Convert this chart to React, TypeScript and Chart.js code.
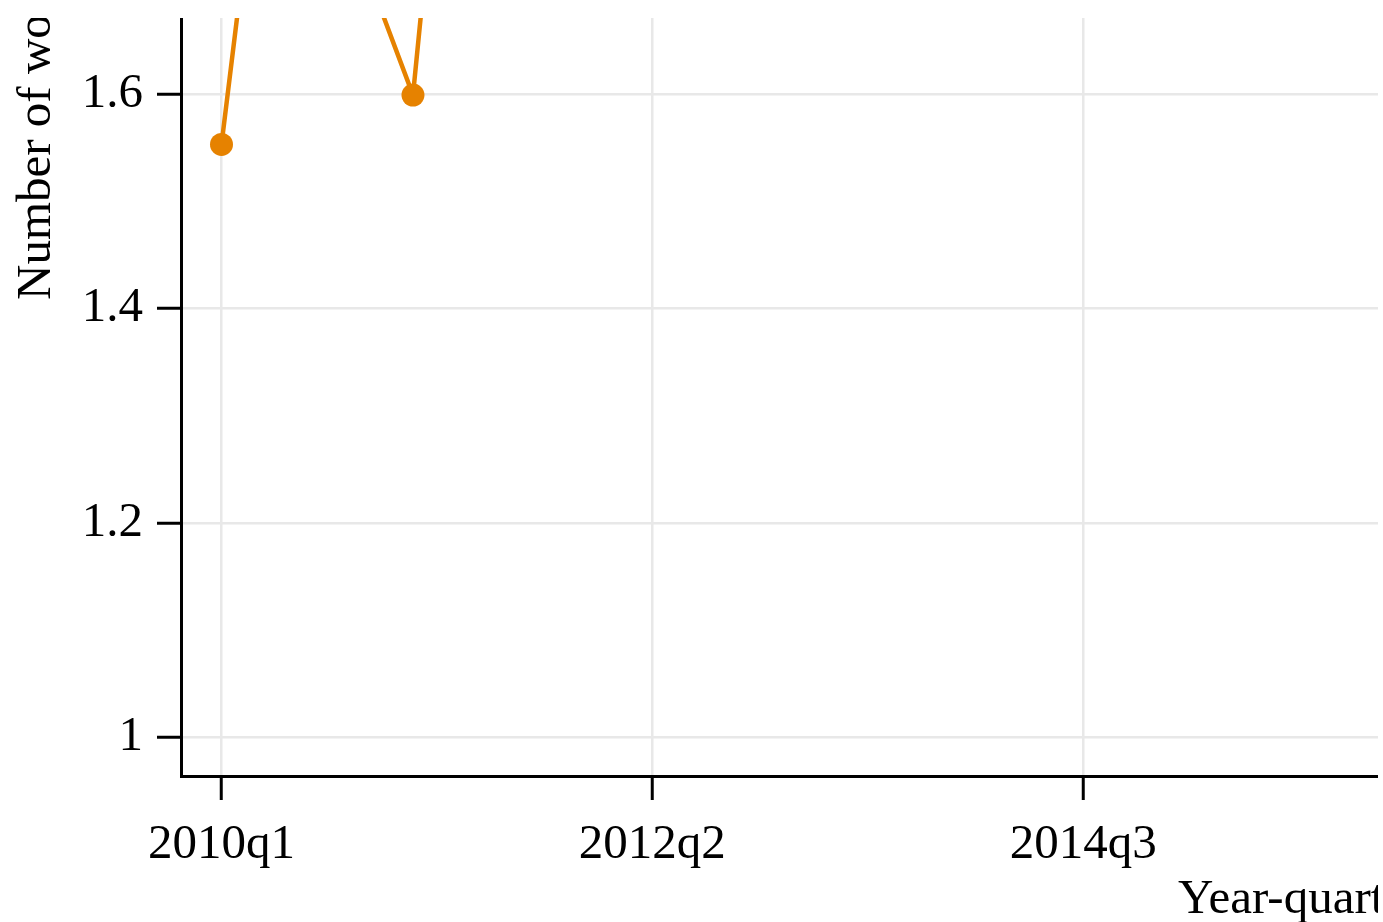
import React, { useEffect, useRef } from "react";
import { Chart, registerables } from "chart.js";

Chart.register(...registerables);

// Data read from the (cropped) reference picture
const categories = ["2010q1", "2010q2", "2010q3", "2010q4", "2011q1", "2011q2"];
const seriesValues = [1.553, 1.917, 1.86, 1.718, 1.599, 2.05];
const xTickLabels = ["2010q1", "2012q2", "2014q3"];
const yTickValues = [1, 1.2, 1.4, 1.6];
const yTitle = "Number of workers";
const xTitle = "Year-quarter";

const quarterIndex = (label: string) => {
  const [y, q] = label.split("q");
  return (parseInt(y, 10) - 2010) * 4 + (parseInt(q, 10) - 1);
};

const ORANGE = "#E68200";
const FONT_FAMILY = '"Liberation Serif", "Times New Roman", serif';

export default function App() {
  const canvasRef = useRef<HTMLCanvasElement | null>(null);

  useEffect(() => {
    if (!canvasRef.current) return;

    const titlePlugin = {
      id: "customTitles",
      afterDraw(chart: any) {
        const ctx = chart.ctx as CanvasRenderingContext2D;
        ctx.save();
        ctx.fillStyle = "#000";
        ctx.font = `49px ${FONT_FAMILY}`;
        ctx.textBaseline = "alphabetic";
        ctx.textAlign = "left";
        // y-axis title (rotated)
        ctx.save();
        ctx.translate(50, 300);
        ctx.rotate(-Math.PI / 2);
        ctx.fillText(yTitle, 0, 0);
        ctx.restore();
        // x-axis title
        ctx.fillText(xTitle, 1178, 913);
        ctx.restore();
      },
    };

    const chart = new Chart(canvasRef.current, {
      type: "line",
      data: {
        datasets: [
          {
            data: categories.map((c, i) => ({ x: quarterIndex(c), y: seriesValues[i] })),
            borderColor: ORANGE,
            backgroundColor: ORANGE,
            borderWidth: 4.5,
            pointRadius: 11.5,
            pointBorderWidth: 0,
            pointBackgroundColor: ORANGE,
            tension: 0,
            fill: false,
            clip: 0,
          } as any,
        ],
      },
      options: {
        animation: false,
        responsive: false,
        devicePixelRatio: 1,
        layout: { autoPadding: false, padding: { left: 0, right: 20, top: 0, bottom: 0 } },
        plugins: {
          legend: { display: false },
          tooltip: { enabled: false },
          title: { display: false },
        },
        scales: {
          x: {
            type: "linear",
            min: -0.846,
            max: 26.29,
            afterFit(axis: any) {
              axis.height = 146;
              axis.paddingLeft = 0;
              axis.paddingRight = 0;
            },
            afterBuildTicks(axis: any) {
              axis.ticks = xTickLabels.map((l) => ({ value: quarterIndex(l) }));
            },
            ticks: {
              autoSkip: false,
              maxRotation: 0,
              minRotation: 0,
              padding: 16,
              color: "#000",
              font: { family: FONT_FAMILY, size: 49 },
              callback: (v: any) => {
                const found = xTickLabels.find((l) => quarterIndex(l) === Number(v));
                return found ?? "";
              },
            },
            grid: {
              color: "#e8e8e8",
              lineWidth: 2.5,
              tickColor: "#000",
              tickLength: 24,
              tickWidth: 3,
            } as any,
            border: { color: "#000", width: 3 },
          },
          y: {
            type: "linear",
            min: 0.9639,
            max: 1.6877,
            afterFit(axis: any) {
              axis.width = 181;
              axis.paddingTop = 0;
              axis.paddingBottom = 0;
            },
            afterBuildTicks(axis: any) {
              axis.ticks = yTickValues.map((v) => ({ value: v }));
            },
            ticks: {
              autoSkip: false,
              padding: 14,
              color: "#000",
              font: { family: FONT_FAMILY, size: 49 },
              callback: (v: any) => String(Number(v)),
            },
            grid: {
              color: "#e8e8e8",
              lineWidth: 2.5,
              tickColor: "#000",
              tickLength: 24,
              tickWidth: 3,
            } as any,
            border: { color: "#000", width: 3 },
          },
        },
      },
      plugins: [titlePlugin],
    });

    return () => chart.destroy();
  }, []);

  return (
    <div
      style={{
        position: "fixed",
        left: 0,
        top: 18,
        width: 1378,
        height: 904,
        overflow: "hidden",
        background: "#fff",
      }}
    >
      <canvas
        ref={canvasRef}
        width={1500}
        height={922}
        style={{ position: "absolute", left: 0, top: -18, width: 1500, height: 922 }}
      />
    </div>
  );
}
